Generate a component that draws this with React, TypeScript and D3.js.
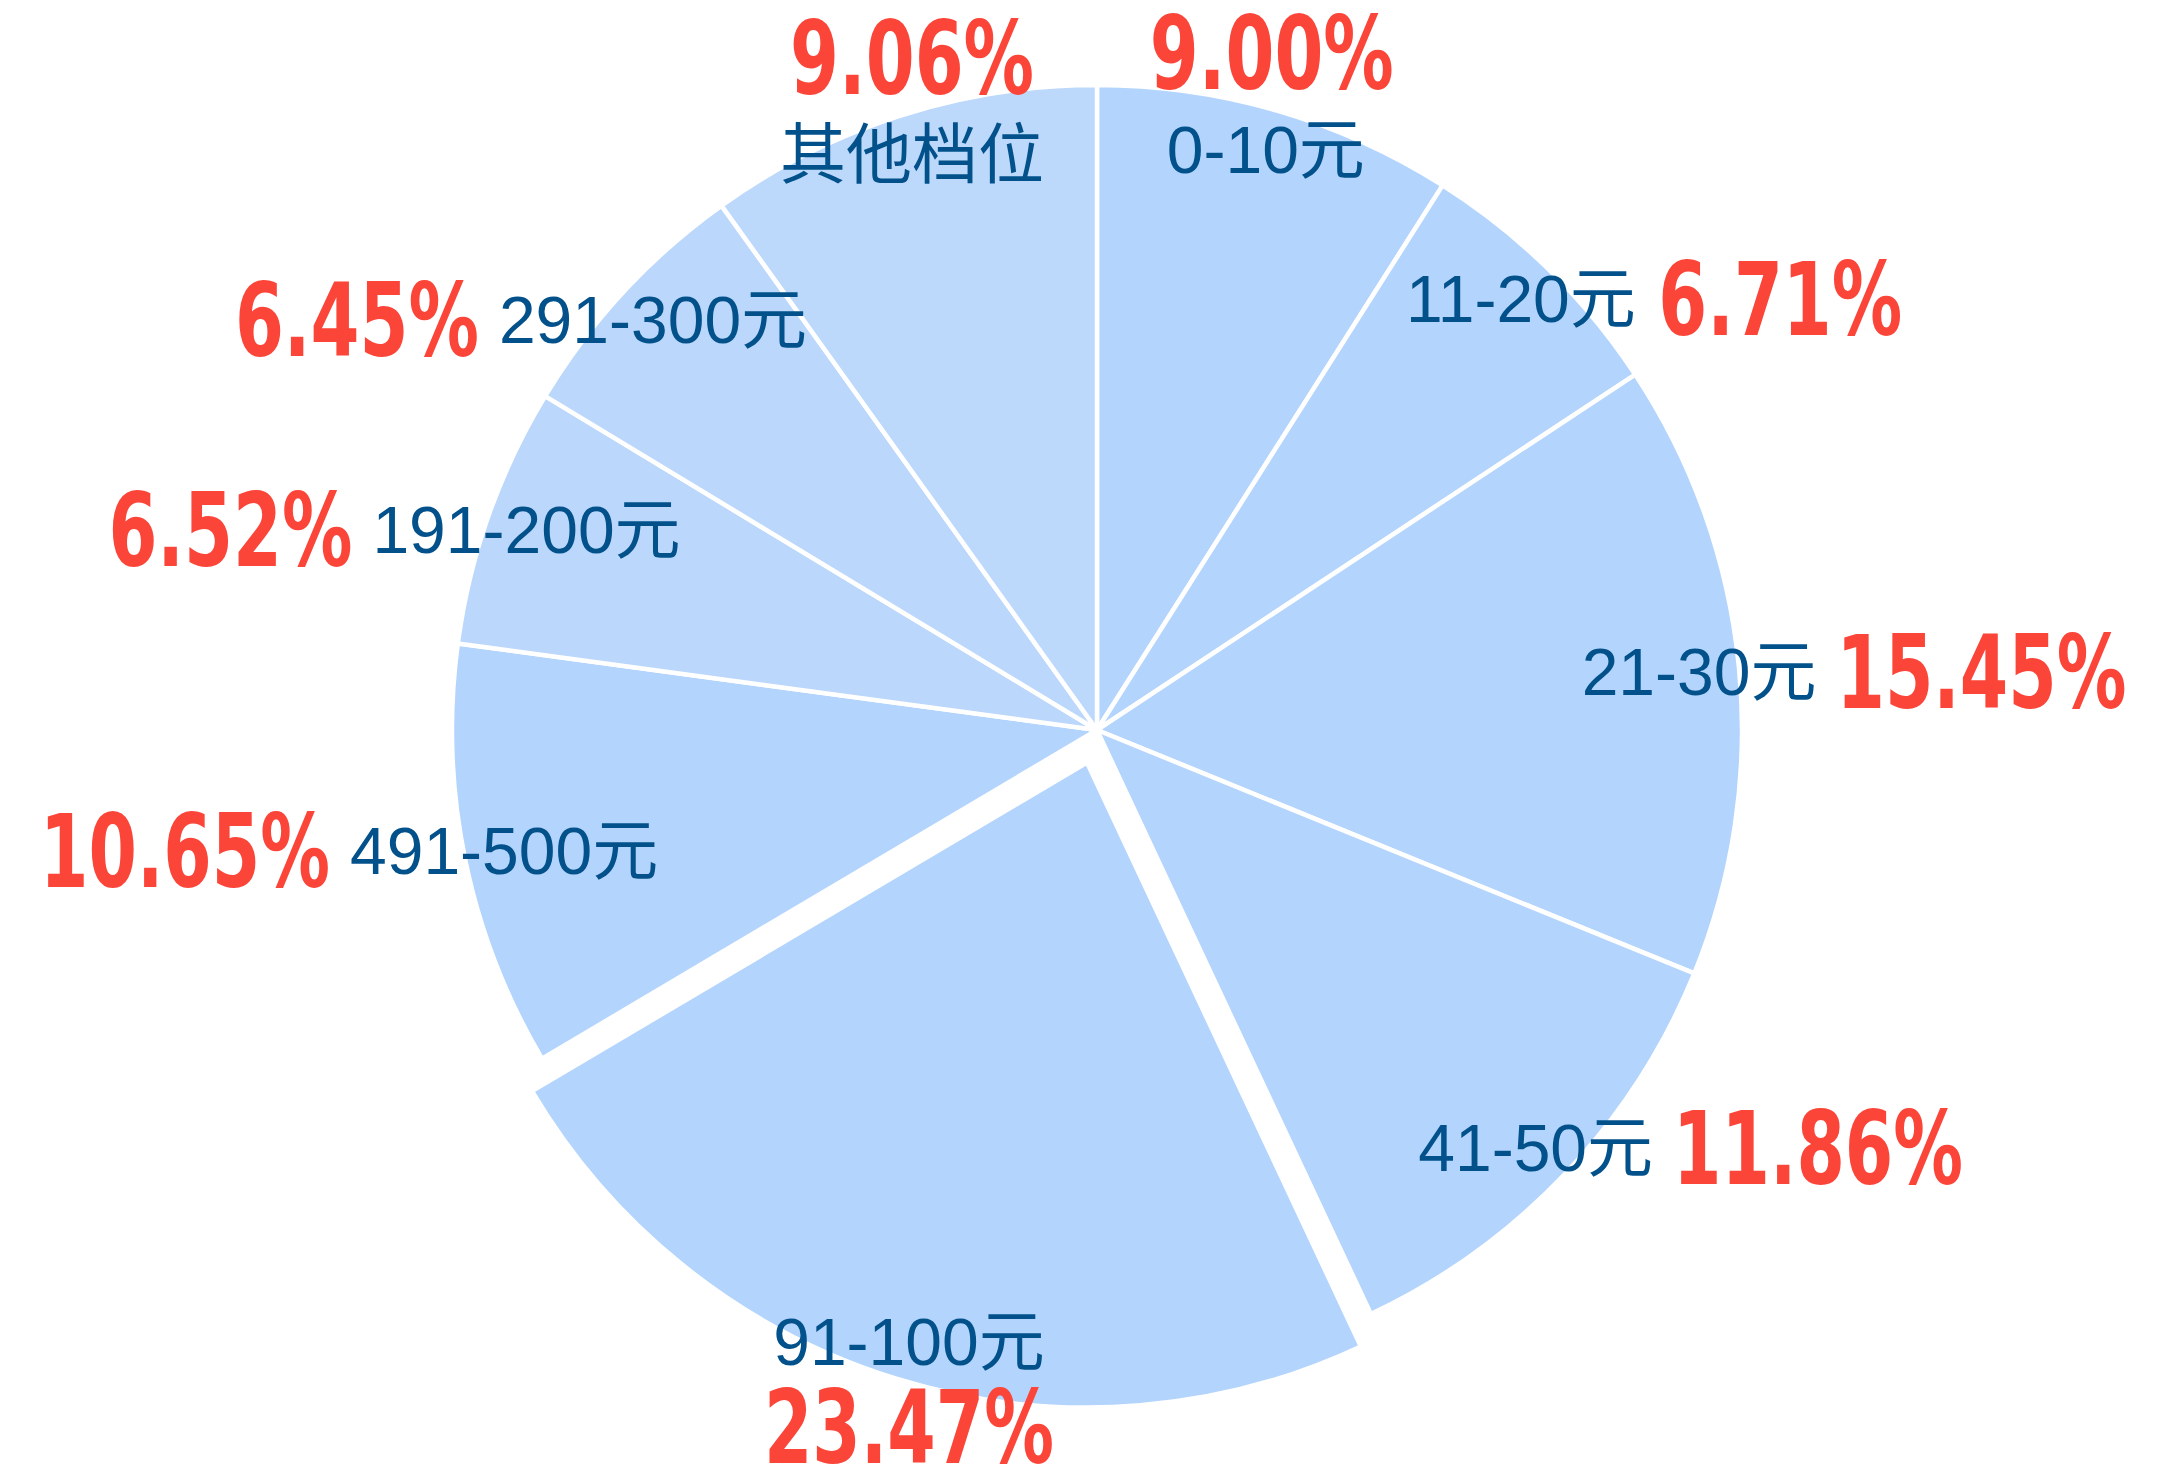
import React from "react";
import * as d3 from "d3";

const categories = ["0-10元", "11-20元", "21-30元", "41-50元", "91-100元", "491-500元", "191-200元", "291-300元", "其他档位"];
const values = [9.0, 6.71, 15.45, 11.86, 23.47, 10.65, 6.52, 6.45, 9.89];
const percentLabels = ["9.00%", "6.71%", "15.45%", "11.86%", "23.47%", "10.65%", "6.52%", "6.45%", "9.06%"];

const W = 2168;
const H = 1467;
const CX = 1097;
const CY = 730;
const R = 645;
const LABEL_R = 605;
const EXPLODE = 34;
const explodedIndex = 4;
const placement = ["top", "right", "right", "right", "bottom", "left", "left", "left", "top"];
const fills = ["#b3d4fc", "#b3d4fc", "#b3d4fc", "#b3d4fc", "#b3d4fc", "#b3d4fc", "#bbd7fb", "#bbd7fb", "#bcd8fb"];

const LABEL_SIZE = 66;
const LABEL_CAP = 48;
const PCT_SIZE = 102;
const GAP = 20;

function pctWidth(s: string) {
  let w = 0;
  for (const ch of s) {
    if (ch === ".") w += 24;
    else if (ch === "%") w += 82;
    else w += 46;
  }
  return w;
}

function textWidth(s: string) {
  let w = 0;
  for (const ch of s) {
    if (/[0-9]/.test(ch)) w += 0.556 * LABEL_SIZE;
    else if (ch === "-") w += 0.333 * LABEL_SIZE;
    else w += LABEL_SIZE;
  }
  return w;
}

export default function App() {
  const pie = d3.pie<number>().sort(null).value((d) => d)(values);
  const arc = d3.arc<d3.PieArcDatum<number>>().innerRadius(0).outerRadius(R);

  return (
    <svg width={W} height={H} style={{ display: "block", position: "absolute", left: 0, top: 0 }}>
      <rect width={W} height={H} fill="#ffffff" />
      <g transform={`translate(${CX},${CY})`}>
        {pie.map((p, i) => {
          const mid = (p.startAngle + p.endAngle) / 2;
          const off = i === explodedIndex ? EXPLODE : 0;
          const dx = Math.sin(mid) * off;
          const dy = -Math.cos(mid) * off;
          return (
            <path
              key={i}
              d={arc(p) as string}
              transform={`translate(${dx},${dy})`}
              fill={fills[i]}
              stroke="#ffffff"
              strokeWidth={4.5}
              strokeLinejoin="round"
            />
          );
        })}
        {pie.map((p, i) => {
          const mid = (p.startAngle + p.endAngle) / 2;
          const off = i === explodedIndex ? EXPLODE : 0;
          const r = LABEL_R + off;
          const lx = Math.sin(mid) * r;
          const ly = -Math.cos(mid) * r;
          const baseline = ly + LABEL_CAP / 2;
          const lw = textWidth(categories[i]);
          const pw = pctWidth(percentLabels[i]);
          let px = lx;
          let py = baseline;
          let anchor: "start" | "middle" | "end" = "middle";
          const pos = placement[i];
          if (pos === "top") {
            py = baseline - 84;
            px = lx + (lx > 0 ? 6 : 0);
          } else if (pos === "bottom") {
            py = baseline + 98;
          } else if (pos === "right") {
            px = lx + lw / 2 + GAP;
            py = baseline + 13;
            anchor = "start";
          } else {
            px = lx - lw / 2 - GAP;
            py = baseline + 13;
            anchor = "end";
          }
          return (
            <g key={"l" + i}>
              <text
                x={lx}
                y={baseline}
                textAnchor="middle"
                fontFamily="'Liberation Sans', Arial, 'Noto Sans CJK SC', sans-serif"
                fontSize={LABEL_SIZE}
                fill="#02518b"
              >
                {categories[i]}
              </text>
              <text
                x={px}
                y={py}
                textAnchor={anchor}
                fontFamily="'Liberation Sans Narrow', 'DejaVu Sans Condensed', 'Liberation Sans', sans-serif"
                fontWeight="bold"
                fontSize={PCT_SIZE}
                fill="#fc4539"
                textLength={pw}
                lengthAdjust="spacingAndGlyphs"
              >
                {percentLabels[i]}
              </text>
            </g>
          );
        })}
      </g>
    </svg>
  );
}
